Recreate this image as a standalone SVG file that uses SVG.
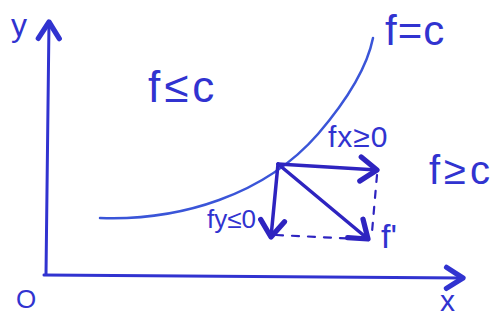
<svg xmlns="http://www.w3.org/2000/svg" width="500" height="320" viewBox="0 0 500 320">
  <style>
    .ink { fill: none; stroke: #3133d0; stroke-linecap: round; stroke-linejoin: round; }
    .axis { stroke-width: 3; }
    .curve { stroke: #3a55d8; stroke-width: 2.5; }
    .vec { stroke: #2e24c0; stroke-width: 3.5; }
    .dash { stroke: #2e24c0; stroke-width: 2.2; stroke-dasharray: 7 9; }
    .lbl { font-family: "Liberation Sans", Arial, sans-serif; fill: #3133d0; }
  </style>
  <defs>
    <marker id="head" markerUnits="userSpaceOnUse" markerWidth="30" markerHeight="30" viewBox="-14 -10 18 20" refX="0" refY="0" orient="auto">
      <path d="M-11,-8 L0,0 L-11,8" fill="none" stroke="#2e24c0" stroke-width="3.5" stroke-linecap="round" stroke-linejoin="round"/>
    </marker>
    <marker id="axhead" markerUnits="userSpaceOnUse" markerWidth="30" markerHeight="30" viewBox="-14 -10 18 20" refX="0" refY="0" orient="auto">
      <path d="M-11,-7 L0,0 L-11,7" fill="none" stroke="#3133d0" stroke-width="3.5" stroke-linecap="round" stroke-linejoin="round"/>
    </marker>
  </defs>

  <g id="axes">
    <path class="ink axis" d="M46,274 L49,22" marker-end="url(#axhead)"/>
    <path class="ink axis" d="M44,275 L463,278" marker-end="url(#axhead)"/>
  </g>

  <g id="level-curve">
    <path class="ink curve" d="M100,218 C180,221 265,195 318,134 C348,99 367,68 373,38"/>
  </g>

  <g id="connectors">
    <path class="ink vec" d="M278,164 L377,170" marker-end="url(#head)"/>
    <path class="ink vec" d="M278,164 L271,237" marker-end="url(#head)"/>
    <path class="ink vec" d="M278,164 L368,239" marker-end="url(#head)"/>
    <path class="ink dash" d="M276,235 L360,239"/>
    <path class="ink dash" d="M377,175 L372,232"/>
  </g>

  <g id="labels">
    <text class="lbl" x="11" y="36" font-size="32">y</text>
    <text class="lbl" x="16" y="308" font-size="26">O</text>
    <text class="lbl" x="440" y="311" font-size="30">x</text>
    <text class="lbl" x="148" y="102" font-size="44" letter-spacing="4">f≤c</text>
    <text class="lbl" x="385" y="45" font-size="42" letter-spacing="1">f=c</text>
    <text class="lbl" x="429" y="184" font-size="40" letter-spacing="4">f≥c</text>
    <text class="lbl" x="328" y="147" font-size="30" letter-spacing="1">fx≥0</text>
    <text class="lbl" x="207" y="228" font-size="26">fy≤0</text>
    <text class="lbl" x="381" y="248" font-size="34">f'</text>
  </g>
</svg>
